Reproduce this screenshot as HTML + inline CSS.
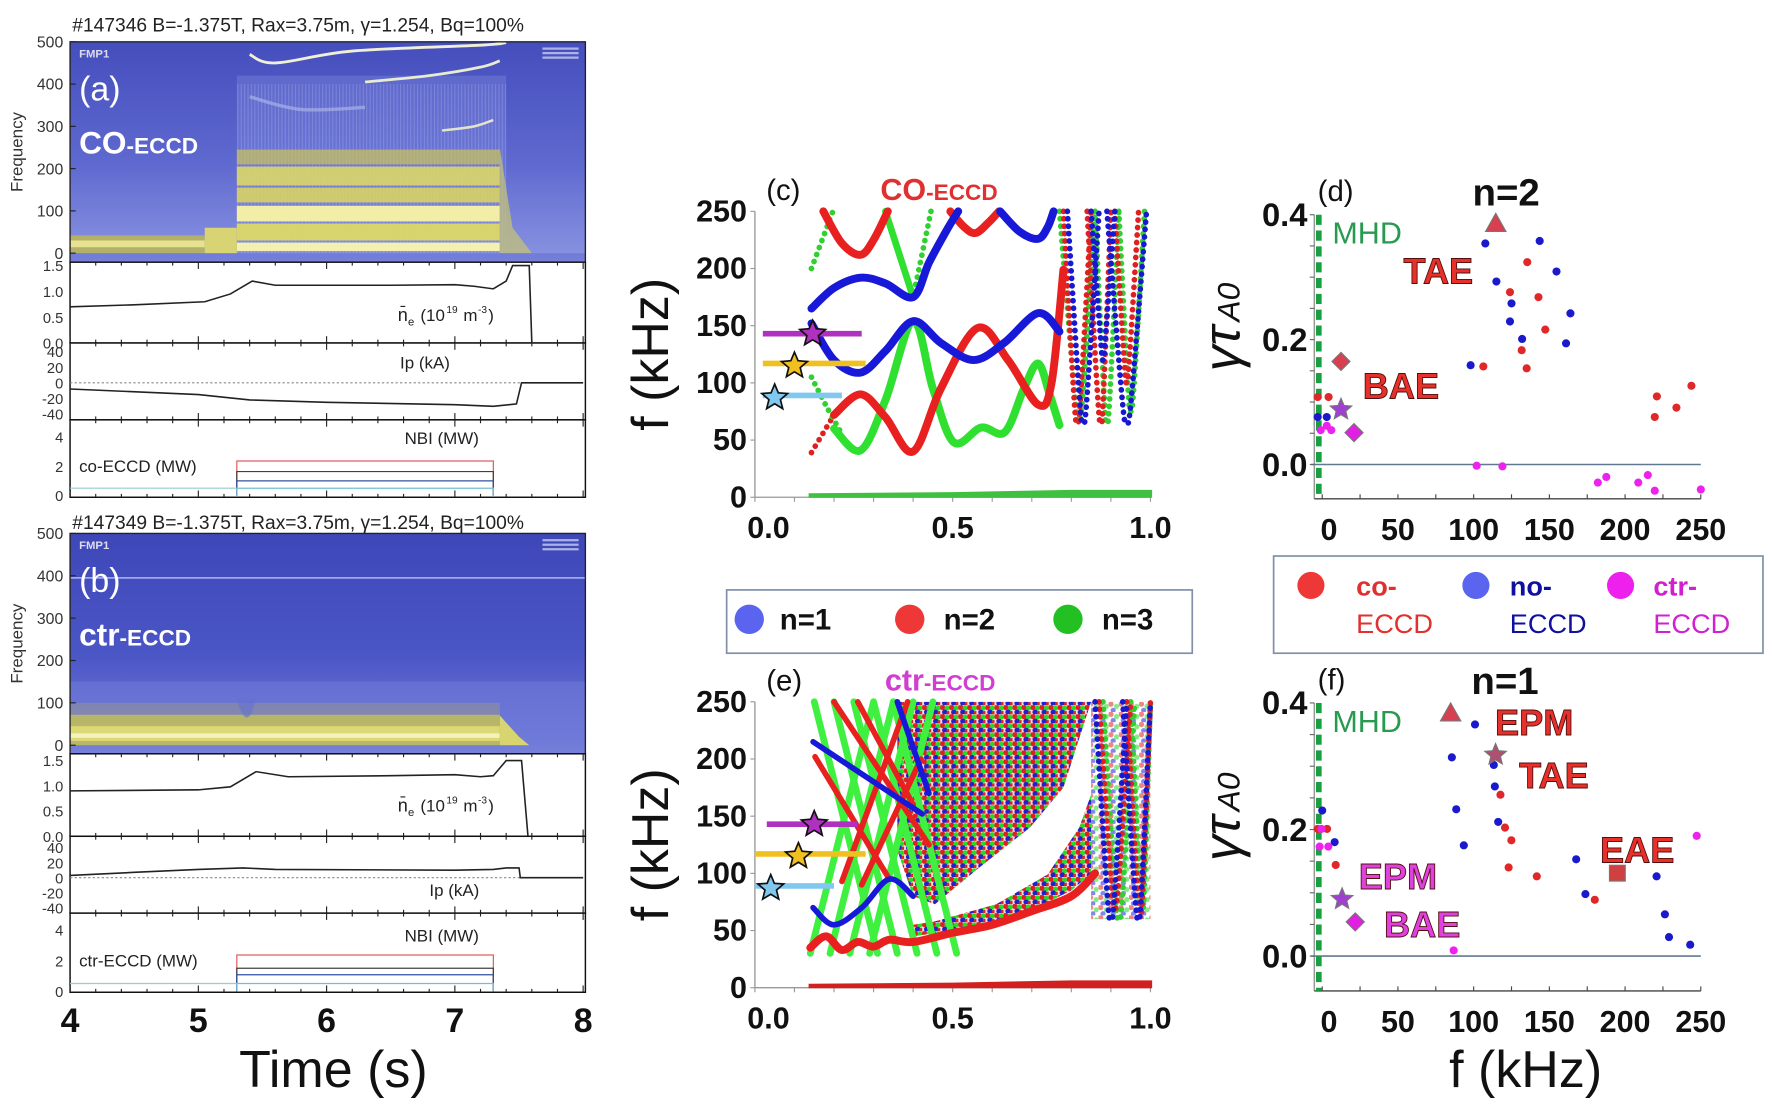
<!DOCTYPE html>
<html><head><meta charset="utf-8">
<style>
html,body{margin:0;padding:0;background:#fff;overflow:hidden}
svg{display:block}
text{font-family:"Liberation Sans",sans-serif}
</style></head>
<body>
<svg id="fig" xmlns="http://www.w3.org/2000/svg" width="1772" height="1109" viewBox="0 0 1568 981.3" preserveAspectRatio="none">
<defs>
<linearGradient id="specBg" x1="0" y1="0" x2="0" y2="1">
<stop offset="0" stop-color="#3e47b8"/><stop offset="0.55" stop-color="#4b56c6"/><stop offset="1" stop-color="#7680da"/>
</linearGradient>
<linearGradient id="haze" x1="0" y1="0" x2="0" y2="1">
<stop offset="0" stop-color="#8c96e8" stop-opacity="0.15"/><stop offset="1" stop-color="#b0b8f0" stop-opacity="0.55"/>
</linearGradient>
<pattern id="stripes" width="3" height="10" patternUnits="userSpaceOnUse">
<rect x="0" y="0" width="1" height="10" fill="#c8ccf4" opacity="0.25"/>
</pattern>
<pattern id="dots" width="8" height="8" patternUnits="userSpaceOnUse">
<rect width="8" height="8" fill="#d8a0a0" opacity="0.35"/>
<circle cx="2" cy="2" r="2.4" fill="#e02020"/><circle cx="6" cy="2.5" r="2.2" fill="#22dd22"/><circle cx="4" cy="6.2" r="2.4" fill="#2020cc"/><circle cx="7.5" cy="7" r="2" fill="#e02020"/>
</pattern>
<pattern id="dots2" width="9" height="9" patternUnits="userSpaceOnUse">
<circle cx="2" cy="2" r="2.4" fill="#e02020"/><circle cx="7" cy="4" r="2.3" fill="#22dd22"/><circle cx="4" cy="7.5" r="2.3" fill="#2020dd"/>
</pattern>
</defs>
<g id="layer"></g>
</svg>
<script>
// ---------- DATA ----------
const neA_t=[4,4.5,5.05,5.25,5.42,5.6,6.5,7.0,7.15,7.3,7.4,7.45,7.58,7.6];
const neA_v=[0.70,0.74,0.80,0.95,1.20,1.12,1.12,1.13,1.10,1.05,1.20,1.50,1.50,0.0];
const ipA_t=[4,5,5.4,6,7,7.3,7.48,7.52,8];
const ipA_v=[-8,-15,-22,-25,-28,-30,-27,0,0];
const neB_t=[4,5,5.25,5.45,5.7,6.5,7.0,7.2,7.3,7.4,7.5,7.52,7.57];
const neB_v=[0.90,0.92,0.98,1.28,1.18,1.20,1.22,1.18,1.20,1.50,1.50,1.50,0.0];
const ipB_t=[4,4.5,5,5.35,5.6,7,7.3,7.4,7.5,7.51,8];
const ipB_v=[3,7,11,13,11,10,11,13,13,0,0];
const nbiA_levels=[2.36,1.64,1.0,0.5];
const nbiB_levels=[2.37,1.5,1.07,0.5];
const nbiColors=["#e06060","#404040","#3050a0","#70c0d0"];
const cBlue1=[[.143,165],[.2,183],[.267,192],[.33,187],[.4,175],[.44,205],[.484,233],[.514,250]];
const cBlue2=[[.62,250],[.67,232],[.716,226],[.74,236],[.755,250]];
const cBlue3=[[.143,152],[.2,120],[.267,109],[.33,128],[.4,154],[.47,135],[.553,120],[.63,135],[.716,161],[.77,145]];
const cRed1=[[.173,250],[.22,222],[.267,212],[.3,225],[.336,250]];
const cRed2=[[.494,250],[.53,236],[.558,231],[.59,240],[.617,250]];
const cRed3=[[.2,72],[.267,90],[.33,70],[.4,40],[.47,95],[.563,148],[.64,120],[.716,81],[.75,100],[.78,199]];
const cRedDot=[[.143,39],[.2,72]];
const cGreen1=[[.2,60],[.267,41],[.33,85],[.4,154],[.45,95],[.503,48],[.572,61],[.632,57],[.68,95],[.716,117],[.745,90],[.77,63]];
const cGreen2=[[.33,250],[.4,175]];
const cGreenDot1=[[.445,250],[.4,175]];
const cGreenDot2=[[.143,200],[.197,250]];
const cGreenDot3=[[.143,105],[.18,80],[.22,55]];
const cVBlue=[[.79,.83,.87,65],[.89,.94,.99,65],[.85,.88,.91,120]];
const cVRed=[[.78,.815,.85,65],[.84,.875,.9,65],[.91,.94,.97,100]];
const cVGreen=[[.77,.82,.86,70],[.86,.89,.92,65],[.92,.95,.985,75]];
const eGreenDown=[.15,.2,.25,.3,.35];
const eGreenUp=[.14,.19,.24,.29];
const eRedLines=[[[.152,202],[.34,95]],[[.2,250],[.44,125]],[[.22,93],[.386,250]],[[.27,90],[.42,200]],[[.26,250],[.4,160]]];
const eBlueLines=[[[.147,215],[.423,152]],[[.147,70],[.2,55],[.27,70],[.34,95],[.4,80]],[[.36,250],[.44,170]]];
const eBand=[[.14,35],[.18,45],[.22,33],[.26,40],[.3,36],[.34,42],[.4,40],[.5,48],[.6,55],[.7,67],[.8,80],[.86,100]];
const eDenseUpper=[[.36,250],[.85,250],[.82,218],[.78,175],[.695,140],[.567,105],[.455,73],[.4,80],[.36,120]];
const eDenseLower=[[.4,45],[.5,50],[.6,57],[.7,68],[.8,85],[.85,100],[.85,169],[.82,140],[.74,99],[.61,73],[.455,58],[.4,55]];
const eDenseRight=[[.85,250],[1,250],[1,60],[.85,60]];
const eVBlue=[[.86,.9,.94,60],[.93,.97,1.0,60]];
const eVRed=[[.87,.91,.95,70],[.94,.975,1.0,65]];
const eVGreen=[[.88,.92,.96,60],[.95,.98,1.0,70]];
const barF=[143,117,89];
const barC=[[.02,.27,.146],[.02,.28,.1],[.02,.22,.05]];
const barE=[[.03,.26,.15],[0,.28,.11],[0,.2,.04]];
const barColors=["#b030c0","#f0c020","#80c8f0"];
const dCoF=[135.4,124,142.8,147.3,131.7,106.4,135,243.8,221,233.9,219.6,4.2,-3];
const dCoG=[0.324,0.276,0.268,0.216,0.183,0.157,0.154,0.126,0.109,0.091,0.076,0.108,0.108];
const dNoF=[107.7,143.6,115,154.7,125,163.9,124,132,161,98,3,-3];
const dNoG=[0.354,0.358,0.293,0.309,0.258,0.242,0.229,0.201,0.194,0.159,0.076,0.076];
const dCtrF=[102,119,182,187.6,208.7,215,219.6,250,6,-1,3];
const dCtrG=[-0.002,-0.003,-0.029,-0.02,-0.029,-0.017,-0.042,-0.04,0.055,0.055,0.062];
const fCoF=[117.7,120.7,124.9,123.1,141.7,180,8.9,-3,3.2];
const fCoG=[0.255,0.203,0.183,0.140,0.126,0.089,0.144,0.201,0.201];
const fNoF=[100.9,85.6,113.3,114,88.5,116.2,93.5,8.2,0,167.7,173.8,220.8,226.3,229,243];
const fNoG=[0.366,0.314,0.302,0.268,0.232,0.212,0.175,0.180,0.230,0.153,0.098,0.126,0.066,0.030,0.018];
const fCtrF=[86.8,247.3,-1.7,4,-0.5];
const fCtrG=[0.009,0.190,0.173,0.173,0.201];
const xTicksKHz=[0,50,100,150,200,250];
const yTicksG=[0.0,0.2,0.4];
const rTicks=[0.0,0.5,1.0];
const fTicks=[0,50,100,150,200,250];

// ---------- helpers ----------
const NS="http://www.w3.org/2000/svg";
const root=document.getElementById('layer');
function el(tag,attrs,parent){const e=document.createElementNS(NS,tag);for(const k in attrs)e.setAttribute(k,attrs[k]);(parent||root).appendChild(e);return e;}
function txt(s,attrs,parent){const e=el('text',attrs,parent);e.textContent=s;return e;}
function smooth(pts){if(pts.length<3)return 'M'+pts.map(p=>p[0].toFixed(1)+','+p[1].toFixed(1)).join('L');
 let d='M'+pts[0][0]+','+pts[0][1];
 for(let i=0;i<pts.length-1;i++){const p0=pts[Math.max(0,i-1)],p1=pts[i],p2=pts[i+1],p3=pts[Math.min(pts.length-1,i+2)];
  const c1=[p1[0]+(p2[0]-p0[0])/6,p1[1]+(p2[1]-p0[1])/6],c2=[p2[0]-(p3[0]-p1[0])/6,p2[1]-(p3[1]-p1[1])/6];
  d+='C'+c1[0].toFixed(1)+','+c1[1].toFixed(1)+' '+c2[0].toFixed(1)+','+c2[1].toFixed(1)+' '+p2[0].toFixed(1)+','+p2[1].toFixed(1);}
 return d;}
function starPts(cx,cy,R){const p=[];for(let i=0;i<10;i++){const a=-Math.PI/2+i*Math.PI/5,r=i%2?R*0.45:R;p.push((cx+r*Math.cos(a)).toFixed(1)+','+(cy+r*Math.sin(a)).toFixed(1));}return p.join(' ');}

// ---------- panels a & b ----------
const X=t=>62+(t-4)*113.5;
function timePanel(cfg){
 const g=el('g',{});
 
 
 const yf=f=>cfg.s0-f*(cfg.s0-cfg.sTop)/500;
 const sp=el('g',{},g);
 
 
 el('rect',{x:62,y:cfg.sTop,width:456,height:cfg.sBot-cfg.sTop,fill:'url(#specBg)'},sp);
 cfg.spectro(sp,yf);
 el('rect',{x:62,y:cfg.sTop,width:456,height:cfg.sBot-cfg.sTop,fill:'none',stroke:'#222','stroke-width':1.2},sp);
 txt('FMP1',{x:70,y:cfg.sTop+14,'font-size':10,'font-weight':'bold',fill:'#dde'},sp);
 for(let k=0;k<3;k++)el('rect',{x:480,y:cfg.sTop+5+k*4,width:32,height:2,fill:'#c8ccf0',opacity:0.8},sp);
 [500,400,300,200,100,0].forEach(v=>{const t=txt(String(v),{x:56,y:yf(v)+5,'font-size':14,'text-anchor':'end',fill:'#333'},g);
  
  el('line',{x1:62,x2:67,y1:yf(v),y2:yf(v),stroke:'#222'},g);});
 const fl=txt('Frequency',{x:0,y:0,'font-size':15,'text-anchor':'middle',fill:'#333',transform:`translate(20,${(cfg.sTop+cfg.sBot)/2}) rotate(-90)`},g);
 
 const frames=[[cfg.sBot,cfg.neBot],[cfg.neBot,cfg.ipBot],[cfg.ipBot,cfg.nbiBot]];
 frames.forEach(([a,b])=>{el('rect',{x:62,y:a,width:456,height:b-a,fill:'#fff',stroke:'#111','stroke-width':1.3},g);
  for(let t=4;t<=8.001;t+=0.2){const big=Math.abs(t-Math.round(t))<0.01;el('line',{x1:X(t),x2:X(t),y1:a,y2:a+(big?6:3),stroke:'#222'},g);el('line',{x1:X(t),x2:X(t),y1:b,y2:b-(big?6:3),stroke:'#222'},g);}});
 const yne=v=>cfg.ne0-v*(cfg.ne0-cfg.ne15)/1.5;
 const yip=v=>cfg.ip0-v*(cfg.ip0-cfg.ip40)/40;
 const ynb=v=>cfg.nb0-v*(cfg.nb0-cfg.nb2)/2;
 [[1.5,'1.5'],[1.0,'1.0'],[0.5,'0.5'],[0,'0.0']].forEach(([v,s])=>{const t=txt(s,{x:56,y:yne(v)+5,'font-size':13,'text-anchor':'end',fill:'#333'},g);});
 [40,20,0,-20,-40].forEach(v=>{const t=txt(String(v),{x:56,y:yip(v)+5,'font-size':13,'text-anchor':'end',fill:'#333'},g);});
 [4,2,0].forEach(v=>{const t=txt(String(v),{x:56,y:ynb(v)+5,'font-size':13,'text-anchor':'end',fill:'#333'},g);});
 const ne=el('path',{d:'M'+cfg.neT.map((t,i)=>X(t).toFixed(1)+','+yne(cfg.neV[i]).toFixed(1)).join('L'),fill:'none',stroke:'#222','stroke-width':1.4},g);
 
 el('line',{x1:62,x2:518,y1:yip(0),y2:yip(0),stroke:'#888','stroke-dasharray':'2 2'},g);
 const ip=el('path',{d:'M'+cfg.ipT.map((t,i)=>X(t).toFixed(1)+','+yip(cfg.ipV[i]).toFixed(1)).join('L'),fill:'none',stroke:'#222','stroke-width':1.4},g);
 
 cfg.nbi.forEach((v,i)=>{const p=el('path',{d:`M${X(5.3)},${ynb(0)}L${X(5.3)},${ynb(v)}L${X(7.3)},${ynb(v)}L${X(7.3)},${ynb(0)}`,fill:'none',stroke:nbiColors[i],'stroke-width':1.1},g);
  });
 el('line',{x1:62,x2:X(5.3),y1:ynb(cfg.nbi[3]),y2:ynb(cfg.nbi[3]),stroke:'#9cc',"stroke-width":1},g);
 const l1=txt('n\u0304',{x:cfg.neLx,y:cfg.neLy,'font-size':16,fill:'#222'},g);
 txt('e',{x:cfg.neLx+9,y:cfg.neLy+4,'font-size':10,fill:'#222'},g);
 txt('(10',{x:cfg.neLx+20,y:cfg.neLy,'font-size':15,fill:'#222'},g);
 txt('19',{x:cfg.neLx+43,y:cfg.neLy-7,'font-size':9,fill:'#222'},g);
 txt('m',{x:cfg.neLx+58,y:cfg.neLy,'font-size':15,fill:'#222'},g);
 txt('-3',{x:cfg.neLx+71,y:cfg.neLy-7,'font-size':9,fill:'#222'},g);
 txt(')',{x:cfg.neLx+80,y:cfg.neLy,'font-size':15,fill:'#222'},g);
 const l2=txt('Ip (kA)',{x:cfg.ipLx,y:cfg.ipLy,'font-size':15,fill:'#222'},g);
 const l3=txt('NBI (MW)',{x:cfg.nbLx,y:cfg.nbLy,'font-size':15,fill:'#222'},g);
 const l4=txt(cfg.eccd,{x:70,y:ynb(2)+5,'font-size':15,fill:'#222'},g);
 const ti=txt(cfg.title,{x:64,y:cfg.titleY,'font-size':17,fill:'#222'},g);
 const pl=txt(cfg.letter,{x:70,y:cfg.sTop+52,'font-size':30,fill:'#fff'},g);
 const cl=el('text',{x:70,y:cfg.sTop+99,fill:'#fff','font-weight':'bold'},g);
 const ts1=el('tspan',{'font-size':28},cl);ts1.textContent=cfg.big;const ts2=el('tspan',{'font-size':20},cl);ts2.textContent='-ECCD';
}
timePanel({name:'panel-a',title:'#147346 B=-1.375T, Rax=3.75m, \u03b3=1.254, Bq=100%',titleY:28,letter:'(a)',big:'CO',eccd:'co-ECCD (MW)',
 sTop:37,s0:224,sBot:232,ne15:235,ne0:303.5,neBot:303.5,ip40:311,ip0:338.7,ipBot:371.5,nb2:412.6,nb0:438.5,nbiBot:440,
 neT:neA_t,neV:neA_v,ipT:ipA_t,ipV:ipA_v,nbi:nbiA_levels,neLx:352,neLy:284,ipLx:354,ipLy:326,nbLx:358,nbLy:393,
 spectro:(g,yf)=>{
  el('rect',{x:62,y:yf(500),width:456,height:yf(0)-yf(500),fill:'url(#haze)',opacity:0.6},g);
  el('rect',{x:X(5.3),y:yf(420),width:X(7.4)-X(5.3),height:yf(0)-yf(420),fill:'#7c88dc',opacity:0.4},g);
  el('rect',{x:X(5.3),y:yf(400),width:X(7.4)-X(5.3),height:yf(0)-yf(400),fill:'url(#stripes)'},g);
  const bands=[[210,245,'#c8c060',0.75],[160,205,'#dcd668',0.9],[120,155,'#d8d264',0.9],[75,112,'#f2eea8',1],[30,70,'#dcd866',0.95],[5,25,'#f4f0b0',1]];
  bands.forEach(b=>el('rect',{x:X(5.3),y:yf(b[1]),width:X(7.35)-X(5.3),height:yf(b[0])-yf(b[1]),fill:b[2],opacity:b[3]},g));
  el('rect',{x:X(4),y:yf(42),width:X(5.05)-X(4),height:yf(0)-yf(42),fill:'#b8b45c',opacity:0.9},g);
  el('rect',{x:X(4),y:yf(30),width:X(5.05)-X(4),height:6,fill:'#e6e290'},g);
  el('rect',{x:X(5.05),y:yf(60),width:X(5.3)-X(5.05),height:yf(0)-yf(60),fill:'#d8d474'},g);
  el('path',{d:`M${X(7.35)},${yf(250)}L${X(7.45)},${yf(60)}L${X(7.6)},${yf(0)}L${X(7.35)},${yf(0)}Z`,fill:'#c8c470',opacity:0.7},g);
  el('path',{d:smooth([[X(5.4),yf(470)],[X(5.6),yf(450)],[X(6.2),yf(478)],[X(7.2),yf(492)],[X(7.4),yf(498)]]),fill:'none',stroke:'#f0f0d8','stroke-width':2.5},g);
  el('path',{d:smooth([[X(6.3),yf(405)],[X(6.8),yf(420)],[X(7.2),yf(440)],[X(7.35),yf(455)]]),fill:'none',stroke:'#e8ecd0','stroke-width':2.5},g);
  el('path',{d:smooth([[X(6.9),yf(290)],[X(7.15),yf(300)],[X(7.3),yf(315)]]),fill:'none',stroke:'#e0e4c8','stroke-width':2.2},g);
  el('path',{d:smooth([[X(5.4),yf(370)],[X(5.8),yf(340)],[X(6.3),yf(345)]]),fill:'none',stroke:'#a8b0e8','stroke-width':3,opacity:0.7},g);
 }});
timePanel({name:'panel-b',title:'#147349 B=-1.375T, Rax=3.75m, \u03b3=1.254, Bq=100%',titleY:468,letter:'(b)',big:'ctr',eccd:'ctr-ECCD (MW)',
 sTop:472,s0:659.4,sBot:667,ne15:673,ne0:740,neBot:740,ip40:750,ip0:776.6,ipBot:808,nb2:850,nb0:877,nbiBot:878,
 neT:neB_t,neV:neB_v,ipT:ipB_t,ipV:ipB_v,nbi:nbiB_levels,neLx:352,neLy:718,ipLx:380,ipLy:793,nbLx:358,nbLy:833,
 spectro:(g,yf)=>{
  el('rect',{x:62,y:yf(150),width:456,height:yf(0)-yf(150),fill:'#6f7ad8',opacity:0.6},g);
  el('rect',{x:X(4),y:yf(72),width:X(7.35)-X(4),height:yf(0)-yf(72),fill:'#c0bc5c',opacity:0.9},g);
  el('rect',{x:X(4),y:yf(100),width:X(7.35)-X(4),height:yf(72)-yf(100),fill:'#a4a27a',opacity:0.4},g);
  el('rect',{x:X(4),y:yf(45),width:X(7.35)-X(4),height:yf(10)-yf(45),fill:'#dcd874'},g);
  el('rect',{x:X(4),y:yf(28),width:X(7.35)-X(4),height:4,fill:'#f4f2c0'},g);
  el('path',{d:`M${X(5.3)},${yf(110)}Q${X(5.38)},${yf(20)} ${X(5.45)},${yf(110)}Z`,fill:'#6470d0',opacity:0.6},g);
  el('path',{d:`M${X(7.35)},${yf(70)}L${X(7.5)},${yf(20)}L${X(7.58)},${yf(0)}L${X(7.35)},${yf(0)}Z`,fill:'#d8d470'},g);
  el('line',{x1:62,x2:518,y1:yf(395),y2:yf(395),stroke:'#a0a8ec','stroke-width':1.5},g);
 }});
[4,5,6,7,8].forEach(t=>{const e=txt(String(t),{x:X(t),y:913,'font-size':30,'font-weight':'bold','text-anchor':'middle',fill:'#111'});});
{const e=txt('Time (s)',{x:295,y:962,'font-size':46,'text-anchor':'middle',fill:'#111'});}

// ---------- panels c & e ----------
function rPanel(cfg){
 const g=el('g',{});
 
 
 const xr=r=>668+r*350, yk=f=>cfg.y0-f*1.012;
 el('line',{x1:668,x2:668,y1:yk(250),y2:yk(0),stroke:'#999','stroke-width':1.2},g);
 el('line',{x1:668,x2:1018,y1:yk(0),y2:yk(0),stroke:'#999','stroke-width':1.2},g);
 for(let r=0;r<=1.001;r+=0.1)el('line',{x1:xr(r),x2:xr(r),y1:yk(0),y2:yk(0)+4,stroke:'#999'},g);
 fTicks.forEach(f=>{el('line',{x1:664,x2:668,y1:yk(f),y2:yk(f),stroke:'#999'},g);
  const t=txt(String(f),{x:661,y:yk(f)+9,'font-size':27,'font-weight':'bold','text-anchor':'end',fill:'#111'},g);});
 rTicks.forEach(r=>{const t=txt(r.toFixed(1),{x:xr(r)+(r==0?12:0),y:cfg.y0+36,'font-size':27,'font-weight':'bold','text-anchor':'middle',fill:'#111'},g);});
 const yl=txt('f (kHz)',{x:0,y:0,'font-size':46,'text-anchor':'middle',fill:'#111',transform:`translate(591,${yk(125)}) rotate(-90)`},g);
 const pl=txt(cfg.letter,{x:678,y:yk(250)-10,'font-size':26,fill:'#111'},g);
 const ct=el('text',{x:cfg.tx,y:yk(250)-10,fill:cfg.tc,'font-weight':'bold'},g);
 const a1=el('tspan',{'font-size':27},ct);a1.textContent=cfg.big;const a2=el('tspan',{'font-size':20},ct);a2.textContent='-ECCD';
 const P=pts=>pts.map(p=>[xr(p[0]),yk(p[1])]);
 const sol=(pts,c,w)=>{const p=el('path',{d:smooth(P(pts)),fill:'none',stroke:c,'stroke-width':w||7,'stroke-linecap':'round'},g);};
 const dot=(pts,c)=>{const p=el('path',{d:smooth(P(pts)),fill:'none',stroke:c,'stroke-width':5,'stroke-linecap':'round','stroke-dasharray':'0.1 6.5'},g);};
 const vee=(arr,c)=>arr.forEach(v=>dot([[v[0],250],[v[1]-(v[1]-v[0])*0.25,v[3]+25],[v[1],v[3]],[v[1]+(v[2]-v[1])*0.25,v[3]+25],[v[2],250]],c));
 cfg.draw({g,xr,yk,sol,dot,vee,P});
 const lb=el('path',{d:`M${xr(.14)},${yk(1)}L${xr(1)},${yk(1)}L${xr(1)},${yk(5)}L${xr(.8)},${yk(5)}L${xr(.5)},${yk(3)}L${xr(.14)},${yk(2)}Z`,fill:cfg.lowColor,stroke:cfg.lowColor,'stroke-width':3},g);
 
 barF.forEach((f,i)=>{const b=cfg.bars[i];
  const ln=el('line',{x1:xr(b[0]),x2:xr(b[1]),y1:yk(f),y2:yk(f),stroke:barColors[i],'stroke-width':5},g);
  const st=el('polygon',{points:starPts(xr(b[2]),yk(f)+(i==0?0:2),12),fill:barColors[i],stroke:'#111','stroke-width':1.5},g);});
}
rPanel({name:'panel-c',letter:'(c)',y0:440,tx:779,tc:'#e03030',big:'CO',lowColor:'#40c040',bars:barC,
 draw:({sol,dot,vee})=>{
  vee(cVGreen,'#30d030');vee(cVRed,'#e02020');vee(cVBlue,'#1818d0');
  dot(cRedDot,'#e02020');dot(cGreenDot1,'#30d030');dot(cGreenDot2,'#30d030');dot(cGreenDot3,'#30d030');
  sol(cGreen2,'#30e030',6);sol(cGreen1,'#30e030');
  sol(cRed1,'#e82020');sol(cRed2,'#e82020');sol(cRed3,'#e82020');
  sol(cBlue1,'#1818d8');sol(cBlue2,'#1818d8');sol(cBlue3,'#1818d8');
 }});
rPanel({name:'panel-e',letter:'(e)',y0:874,tx:783,tc:'#d040d0',big:'ctr',lowColor:'#d02020',bars:barE,
 draw:({g,xr,yk,sol,dot,vee,P})=>{
  const poly=(pts,fill,op)=>{const p=el('path',{d:'M'+P(pts).map(q=>q[0].toFixed(1)+','+q[1].toFixed(1)).join('L')+'Z',fill:fill,opacity:op},g);};
  poly(eDenseUpper,'url(#dots)',1);poly(eDenseLower,'url(#dots)',1);poly(eDenseRight,'url(#dots2)',0.55);
  vee(eVGreen,'#30d030');vee(eVRed,'#e02020');vee(eVBlue,'#1818d0');
  eGreenDown.forEach(r=>sol([[r,250],[r+0.16,30]],'#40f040',6));
  eGreenUp.forEach(r=>sol([[r,30],[r+0.16,250]],'#40f040',6));
  eRedLines.forEach(l=>sol(l,'#e82020',5));
  eBlueLines.forEach(l=>sol(l,'#1818d8',5));
  sol(eBand,'#e82020',7);
 }});

{const lg=el('g',{});
 el('rect',{x:643,y:522,width:412,height:56,fill:'#fff',stroke:'#8090a8','stroke-width':1.5},lg);
 const items=[['n=1','#5a64ee',663,690],['n=2','#ee3838',805,835],['n=3','#22c022',945,975]];
 items.forEach(it=>{const c=el('circle',{cx:it[2],cy:548,r:13,fill:it[1]},lg);
  const t=txt(it[0],{x:it[3],y:557,'font-size':26,'font-weight':'bold',fill:'#111'},lg);});}
{const lg=el('g',{});
 el('rect',{x:1127,y:492,width:433,height:86,fill:'#fff',stroke:'#8090a8','stroke-width':1.5},lg);
 const items=[['co-','ECCD','#ee3838','#e03030',1160,1200],['no-','ECCD','#5a64ee','#1010a0',1306,1336],['ctr-','ECCD','#ee20ee','#d020d0',1434,1463]];
 items.forEach(it=>{const c=el('circle',{cx:it[4],cy:518,r:12,fill:it[2]},lg);
  const t=txt(it[0],{x:it[5],y:527,'font-size':24,'font-weight':'bold',fill:it[3]},lg);
  const t2=txt(it[1],{x:it[5],y:560,'font-size':24,fill:it[3]},lg);});}

// ---------- panels d & f ----------
function gPanel(cfg){
 const g=el('g',{});
 
 
 const xf=f=>1170+f*1.34, yg=v=>cfg.y0-v*cfg.k;
 const bot=yg(-0.055);
 el('line',{x1:1163,x2:1163,y1:yg(0.4),y2:bot,stroke:'#999','stroke-width':1.3},g);
 el('line',{x1:1163,x2:1505,y1:bot,y2:bot,stroke:'#444','stroke-width':1.2},g);
 el('line',{x1:1160,x2:1505,y1:yg(0),y2:yg(0),stroke:'#607890','stroke-width':1.4},g);
 for(let f=0;f<=250;f+=25)el('line',{x1:xf(f),x2:xf(f),y1:bot,y2:bot-4,stroke:'#444'},g);
 for(let v=0;v<=0.4001;v+=0.05)el('line',{x1:1159,x2:1163,y1:yg(v),y2:yg(v),stroke:'#666'},g);
 xTicksKHz.forEach(f=>{const t=txt(String(f),{x:xf(f)+(f==0?6:0),y:cfg.y0+67,'font-size':27,'font-weight':'bold','text-anchor':'middle',fill:'#111'},g);});
 yTicksG.forEach(v=>{const t=txt(v.toFixed(1),{x:1157,y:yg(v)+10,'font-size':29,'font-weight':'bold','text-anchor':'end',fill:'#111'},g);});
 const ax=el('text',{x:0,y:0,'text-anchor':'middle',fill:'#111',transform:`translate(1097,${yg(0.22)}) rotate(-90)`,'font-family':'"Liberation Serif",serif','font-style':'italic'},g);
 
 const s1=el('tspan',{'font-size':46},ax);s1.textContent='\u03b3\u03c4';const s2=el('tspan',{'font-size':28,dx:4},ax);s2.textContent='A0';
 const md=el('line',{x1:1167,x2:1167,y1:yg(0.4),y2:bot,stroke:'#18a040','stroke-width':5,'stroke-dasharray':'9 5'},g);
 const mt=txt('MHD',{x:1179,y:yg(0.37)+9,'font-size':27,fill:'#289a50'},g);
 const pl=txt(cfg.letter,{x:1166,y:yg(0.4)-12,'font-size':26,fill:'#111'},g);
 const nt=txt(cfg.n,{x:cfg.nx,y:yg(0.4)-8,'font-size':34,'font-weight':'bold',fill:'#111'},g);
 const pts=(F,G,c,name)=>F.forEach((f,i)=>{const p=el('circle',{cx:xf(f),cy:yg(G[i]),r:3.6,fill:c},g);});
 pts(cfg.coF,cfg.coG,'#e02828','co-eccd-point');
 pts(cfg.noF,cfg.noG,'#1a1acc','no-eccd-point');
 pts(cfg.ctrF,cfg.ctrG,'#ee22ee','ctr-eccd-point');
 cfg.markers.forEach(m=>{const cx=xf(m[1]),cy=yg(m[2]);let e;
  if(m[0]=='tri')e=el('polygon',{points:`${cx},${cy-9} ${cx-9},${cy+7} ${cx+9},${cy+7}`,fill:m[3],stroke:'#777','stroke-width':1},g);
  else if(m[0]=='dia')e=el('polygon',{points:`${cx},${cy-8} ${cx+8},${cy} ${cx},${cy+8} ${cx-8},${cy}`,fill:m[3],stroke:'#777','stroke-width':1},g);
  else if(m[0]=='sq')e=el('rect',{x:cx-7,y:cy-7,width:14,height:14,fill:m[3],stroke:'#777','stroke-width':1},g);
  else e=el('polygon',{points:starPts(cx,cy,10),fill:m[3],stroke:'#777','stroke-width':1},g);
  });
 cfg.labels.forEach(l=>{const t=txt(l[0],{x:xf(l[1]),y:yg(l[2]),'font-size':32,'font-weight':'bold','text-anchor':'middle','dominant-baseline':'central',fill:l[3],stroke:'#501010','stroke-width':0.8},g);
  });
 if(cfg.xtitle){const xt=txt('f (kHz)',{x:1350,y:cfg.y0+116,'font-size':46,'text-anchor':'middle',fill:'#111'},g);}
}
gPanel({name:'panel-d',letter:'(d)',n:'n=2',nx:1303,y0:411,k:552.5,xtitle:false,coF:dCoF,coG:dCoG,noF:dNoF,noG:dNoG,ctrF:dCtrF,ctrG:dCtrG,
 markers:[['tri',114.6,0.386,'#d84050'],['dia',12.4,0.165,'#d84050'],['star',12.4,0.088,'#a040d0'],['dia',21,0.051,'#e020e0']],
 labels:[['TAE',76.7,0.31,'#e8302a'],['BAE',52,0.126,'#e8302a']]});
gPanel({name:'panel-f',letter:'(f)',n:'n=1',nx:1302,y0:846,k:560,xtitle:true,coF:fCoF,coG:fCoG,noF:fNoF,noG:fNoG,ctrF:fCtrF,ctrG:fCtrG,
 markers:[['tri',84.8,0.384,'#d84050'],['star',114.5,0.318,'#b05070'],['sq',194.9,0.131,'#d04040'],['star',13.1,0.090,'#a040d0'],['dia',21.8,0.054,'#e020e0']],
 labels:[['EPM',140,0.369,'#e8302a'],['TAE',153,0.285,'#e8302a'],['EAE',208,0.168,'#e8302a'],['EPM',50,0.126,'#e040e0'],['BAE',66,0.05,'#e040e0']]});
</script>
</body></html>
